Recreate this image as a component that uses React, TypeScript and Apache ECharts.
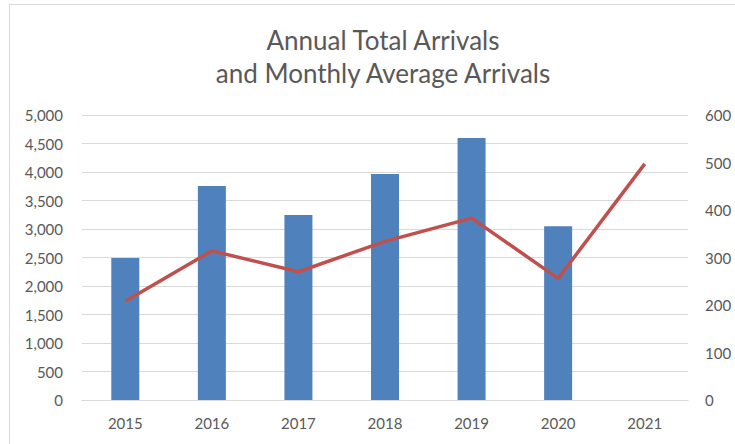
import React, { useEffect, useRef } from "react";
import * as echarts from "echarts";

const years = ["2015", "2016", "2017", "2018", "2019", "2020", "2021"];
const annualTotals = [2490, 3755, 3245, 3965, 4595, 3050, null];
const monthlyAverages = [208, 314, 270, 334, 383, 256, 497];
const titleLines = ["Annual Total Arrivals", "and Monthly Average Arrivals"];

const FONT = "Lato, 'Open Sans', sans-serif";
const TXT = "#595959";

export default function App() {
  const ref = useRef<HTMLDivElement>(null);
  useEffect(() => {
    document.body.style.margin = "0";
    const chart = echarts.init(ref.current!, null, { renderer: "svg" });
    chart.setOption({
      animation: false,
      backgroundColor: "#ffffff",
      textStyle: { fontFamily: FONT },
      title: {
        text: titleLines.join("\n"),
        left: 378,
        textAlign: "center",
        top: 18,
        textStyle: { fontFamily: FONT, fontSize: 26, fontWeight: "normal", color: TXT, lineHeight: 33 },
      },
      graphic: [
        {
          type: "rect",
          shape: { x: 9.5, y: 4.5, width: 740, height: 460 },
          style: { fill: "none", stroke: "#d9d9d9", lineWidth: 1 },
          silent: true,
        },
      ],
      grid: { left: 82, right: 47, top: 115, bottom: 44, containLabel: false },
      xAxis: {
        type: "category",
        data: years,
        axisLine: { lineStyle: { color: "#d9d9d9" } },
        axisTick: { show: false },
        axisLabel: { color: TXT, fontSize: 15, margin: 15, fontFamily: FONT },
      },
      yAxis: [
        {
          type: "value",
          min: 0,
          max: 5000,
          interval: 500,
          axisLine: { show: false },
          axisTick: { show: false },
          splitLine: { lineStyle: { color: "#d9d9d9" } },
          axisLabel: {
            color: TXT,
            fontSize: 15,
            margin: 19,
            fontFamily: FONT,
            formatter: (v: number) => v.toLocaleString("en-US"),
          },
        },
        {
          type: "value",
          min: 0,
          max: 600,
          interval: 100,
          axisLine: { show: false },
          axisTick: { show: false },
          splitLine: { show: false },
          axisLabel: { color: TXT, fontSize: 15, margin: 17, fontFamily: FONT },
        },
      ],
      series: [
        {
          type: "bar",
          data: annualTotals,
          yAxisIndex: 0,
          barWidth: 28,
          itemStyle: { color: "#4F81BD" },
        },
        {
          type: "line",
          data: monthlyAverages,
          yAxisIndex: 1,
          symbol: "none",
          lineStyle: { color: "#C0504D", width: 3.5 },
        },
      ],
    });
    return () => chart.dispose();
  }, []);
  return <div ref={ref} style={{ width: 735, height: 444 }} />;
}
